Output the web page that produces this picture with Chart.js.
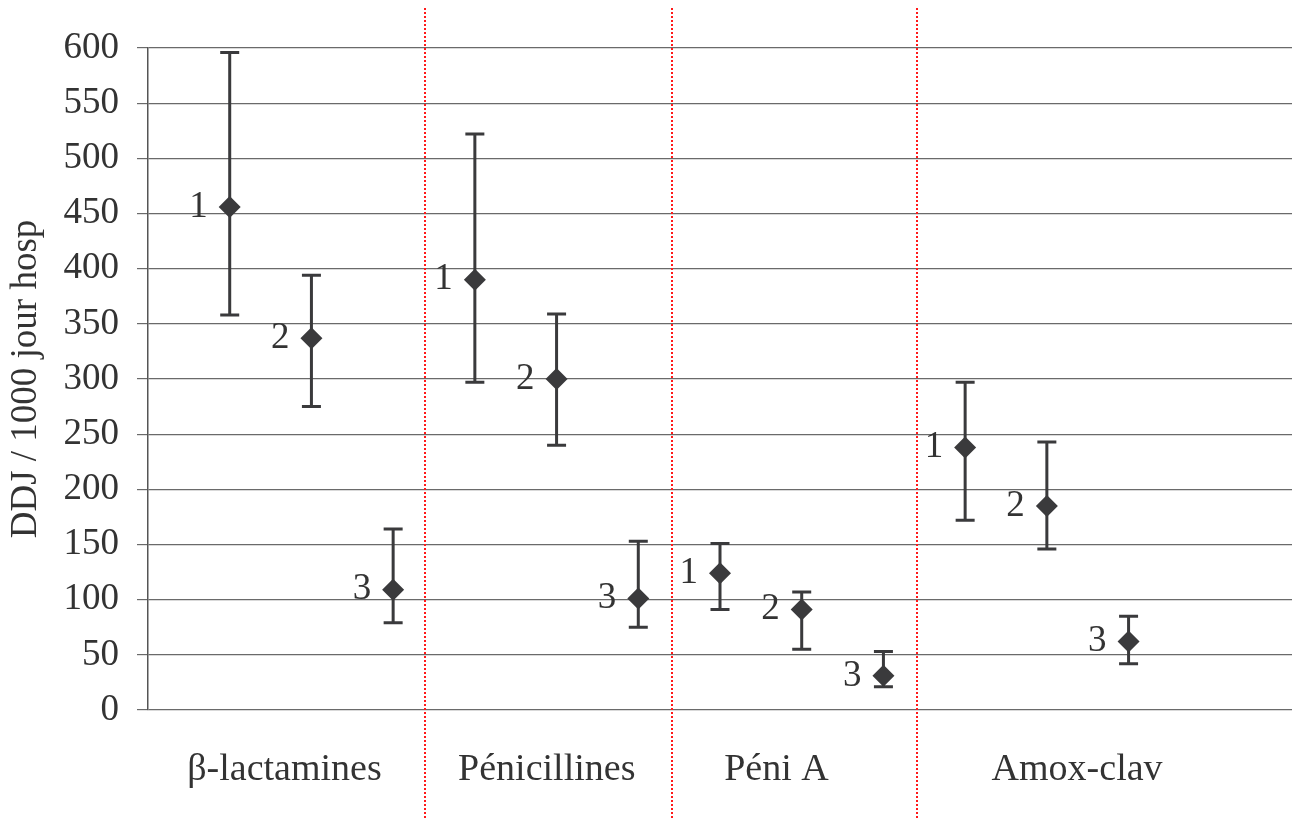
<!DOCTYPE html>
<html>
<head>
<meta charset="utf-8">
<script src="https://cdn.jsdelivr.net/npm/chart.js@4/dist/chart.umd.min.js"></script>
<style>
  html, body { margin: 0; padding: 0; background: #fff; overflow: hidden; }
  #wrap { width: 1303px; height: 820px; position: relative; }
</style>
</head>
<body>
<div id="wrap"><canvas id="chart"></canvas></div>
<script>
// positions on the x axis (linear 0..14) and values
const xPos = [1, 2, 3, 4, 5, 6, 7, 8, 9, 10, 11, 12];
const pointLabels = ["1", "2", "3", "1", "2", "3", "1", "2", "3", "1", "2", "3"];
const means = [456, 337, 109, 390, 300, 101, 124, 91, 31, 238, 185, 62];
const lows = [358, 275, 79, 297, 240, 75, 91, 55, 21, 172, 146, 42];
const highs = [596, 394, 164, 522, 359, 153, 151, 107, 53, 297, 243, 85];

const groups = ["β-lactamines", "Pénicillines", "Péni A", "Amox-clav"];
const groupPos = [1.67, 4.88, 7.69, 11.37];
const separators = [3.39, 6.41, 9.41];

const serif = "'Liberation Serif', 'Times New Roman', serif";

const extrasPlugin = {
  id: "extras",
  beforeDatasetsDraw(chart) {
    const ctx = chart.ctx;
    const x = chart.scales.x;
    const y = chart.scales.y;
    ctx.save();
    // error bars
    ctx.strokeStyle = "#3a3a3c";
    ctx.lineWidth = 3;
    xPos.forEach((v, i) => {
      const px = x.getPixelForValue(v);
      const top = y.getPixelForValue(highs[i]);
      const bot = y.getPixelForValue(lows[i]);
      ctx.beginPath();
      ctx.moveTo(px, top);
      ctx.lineTo(px, bot);
      ctx.moveTo(px - 9.5, top);
      ctx.lineTo(px + 9.5, top);
      ctx.moveTo(px - 9.5, bot);
      ctx.lineTo(px + 9.5, bot);
      ctx.stroke();
    });
    ctx.restore();
  },
  afterDraw(chart) {
    const ctx = chart.ctx;
    const x = chart.scales.x;
    const y = chart.scales.y;
    ctx.save();
    // red dotted separators
    ctx.strokeStyle = "#ff1a1a";
    ctx.lineWidth = 2;
    ctx.setLineDash([2, 2]);
    separators.forEach(s => {
      const px = Math.round(x.getPixelForValue(s));
      ctx.beginPath();
      ctx.moveTo(px, 8);
      ctx.lineTo(px, chart.height);
      ctx.stroke();
    });
    ctx.setLineDash([]);
    // point labels
    ctx.fillStyle = "#333";
    ctx.font = "37px " + serif;
    ctx.textAlign = "right";
    ctx.textBaseline = "middle";
    xPos.forEach((v, i) => {
      ctx.fillText(pointLabels[i], x.getPixelForValue(v) - 22, y.getPixelForValue(means[i]));
    });
    // group labels
    ctx.textAlign = "center";
    ctx.font = "38px " + serif;
    groups.forEach((g, i) => {
      ctx.fillText(g, x.getPixelForValue(groupPos[i]), 770);
    });
    ctx.restore();
  }
};

new Chart(document.getElementById("chart"), {
  type: "scatter",
  data: {
    datasets: [{
      data: xPos.map((v, i) => ({ x: v, y: means[i] })),
      pointStyle: "rectRot",
      pointRadius: 11,
      pointHoverRadius: 11,
      backgroundColor: "#3a3a3c",
      borderColor: "#3a3a3c",
      borderWidth: 0
    }]
  },
  options: {
    responsive: true,
    maintainAspectRatio: false,
    animation: false,
    layout: { padding: { top: 48, bottom: 110, right: 0, left: 0 } },
    plugins: { legend: { display: false }, tooltip: { enabled: false } },
    scales: {
      x: {
        type: "linear",
        min: 0,
        max: 14,
        display: false
      },
      y: {
        min: 0,
        max: 600,
        afterFit(scale) { scale.width = 148; },
        ticks: {
          stepSize: 50,
          color: "#333",
          padding: 18,
          font: { family: serif, size: 37 }
        },
        grid: {
          color: "#6a6a6a",
          lineWidth: 1.2,
          tickLength: 11
        },
        border: { color: "#555", width: 1.5 },
        title: {
          display: true,
          text: "DDJ / 1000 jour hosp",
          color: "#333",
          padding: { top: 4, bottom: 0 },
          font: { family: serif, size: 37 }
        }
      }
    }
  },
  plugins: [extrasPlugin]
});
</script>
</body>
</html>
